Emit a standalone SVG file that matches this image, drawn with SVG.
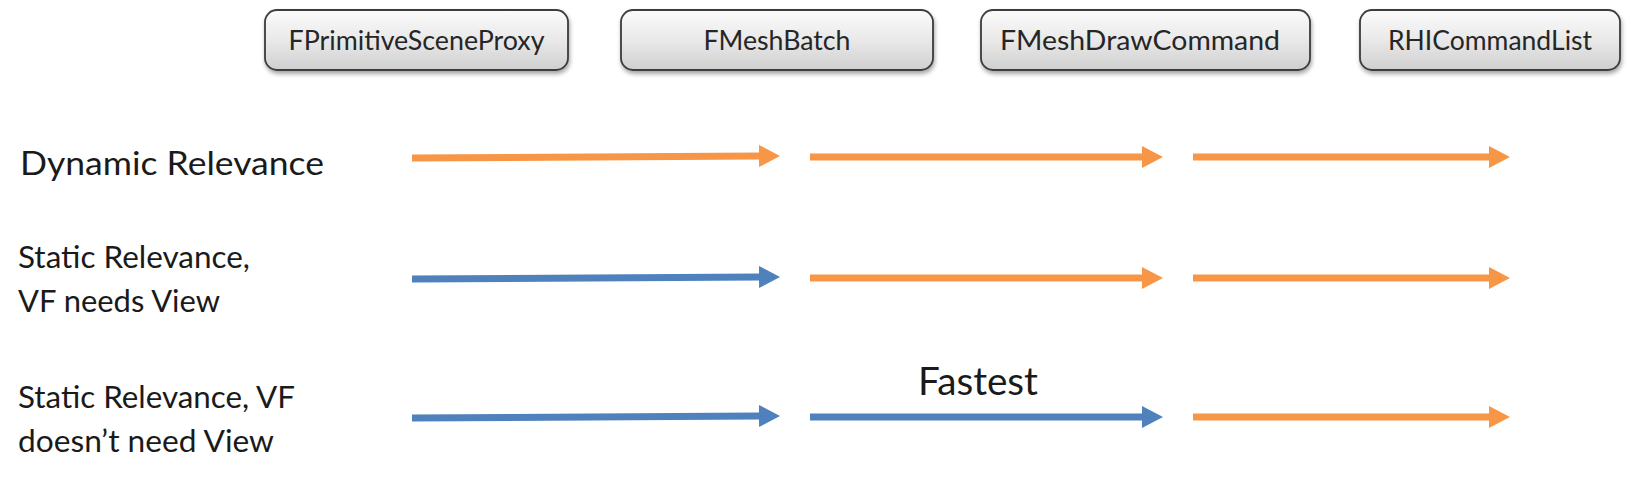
<svg xmlns="http://www.w3.org/2000/svg" width="1640" height="479" viewBox="0 0 1640 479">
  <defs>
    <linearGradient id="boxGrad" x1="0" y1="0" x2="0" y2="1">
      <stop offset="0" stop-color="#fbfbfb"/>
      <stop offset="0.5" stop-color="#e9e9e9"/>
      <stop offset="1" stop-color="#cfcfcf"/>
    </linearGradient>
    <filter id="shadow" x="-10%" y="-20%" width="120%" height="160%">
      <feDropShadow dx="1" dy="3" stdDeviation="2" flood-color="#000" flood-opacity="0.35"/>
    </filter>
    <marker id="headO" markerUnits="userSpaceOnUse" markerWidth="22" markerHeight="24" refX="0" refY="11" orient="auto" viewBox="0 0 22 22">
      <path d="M0,0 L21,11 L0,22 Z" fill="#F79646"/>
    </marker>
    <marker id="headB" markerUnits="userSpaceOnUse" markerWidth="22" markerHeight="24" refX="0" refY="11" orient="auto" viewBox="0 0 22 22">
      <path d="M0,0 L21,11 L0,22 Z" fill="#4F81BD"/>
    </marker>
  </defs>
  <style>
    .box { fill: url(#boxGrad); stroke: #3c3c3c; stroke-width: 1.8; filter: url(#shadow); }
    .boxText { font-family: "Lato", "Open Sans", "Liberation Sans", sans-serif; font-size: 26px; fill: #262626; text-anchor: middle; }
    .label { font-family: "Lato", "Open Sans", "Liberation Sans", sans-serif; fill: #1a1a1a; }
    .orange { stroke: #F79646; stroke-width: 7; fill: none; marker-end: url(#headO); }
    .blue { stroke: #4F81BD; stroke-width: 7; fill: none; marker-end: url(#headB); }
  </style>
  <rect x="0" y="0" width="1640" height="479" fill="#ffffff"/>

  <g id="FPrimitiveSceneProxy">
    <rect class="box" x="265" y="10" width="303" height="60" rx="12"/>
    <text class="boxText" x="416.5" y="50" textLength="256" lengthAdjust="spacingAndGlyphs">FPrimitiveSceneProxy</text>
  </g>
  <g id="FMeshBatch">
    <rect class="box" x="621" y="10" width="312" height="60" rx="12"/>
    <text class="boxText" x="777" y="50" textLength="147" lengthAdjust="spacingAndGlyphs">FMeshBatch</text>
  </g>
  <g id="FMeshDrawCommand">
    <rect class="box" x="981" y="10" width="329" height="60" rx="12"/>
    <text class="boxText" x="1140" y="50" textLength="280" lengthAdjust="spacingAndGlyphs">FMeshDrawCommand</text>
  </g>
  <g id="RHICommandList">
    <rect class="box" x="1360" y="10" width="260" height="60" rx="12"/>
    <text class="boxText" x="1490" y="50" textLength="204" lengthAdjust="spacingAndGlyphs">RHICommandList</text>
  </g>

  <g id="row-labels">
    <text class="label" x="20" y="175" font-size="32" textLength="304" lengthAdjust="spacingAndGlyphs">Dynamic Relevance</text>
    <text class="label" x="18" y="268" font-size="31" textLength="232" lengthAdjust="spacingAndGlyphs">Static Relevance,</text>
    <text class="label" x="18" y="312" font-size="31" textLength="202" lengthAdjust="spacingAndGlyphs">VF needs View</text>
    <text class="label" x="18" y="408" font-size="31" textLength="277" lengthAdjust="spacingAndGlyphs">Static Relevance, VF</text>
    <text class="label" x="18" y="452" font-size="31" textLength="256" lengthAdjust="spacingAndGlyphs">doesn’t need View</text>
  </g>

  <g id="fastest-label">
    <text class="label" x="918" y="395" font-size="38" textLength="120" lengthAdjust="spacingAndGlyphs">Fastest</text>
  </g>

  <g id="connectors">
    <path class="orange" d="M412,158 L759,156"/>
    <path class="orange" d="M810,157 L1142,157"/>
    <path class="orange" d="M1193,157 L1489,157"/>

    <path class="blue" d="M412,279 L759,277"/>
    <path class="orange" d="M810,278 L1142,278"/>
    <path class="orange" d="M1193,278 L1489,278"/>

    <path class="blue" d="M412,418 L759,416"/>
    <path class="blue" d="M810,417 L1142,417"/>
    <path class="orange" d="M1193,417 L1489,417"/>
  </g>
</svg>
